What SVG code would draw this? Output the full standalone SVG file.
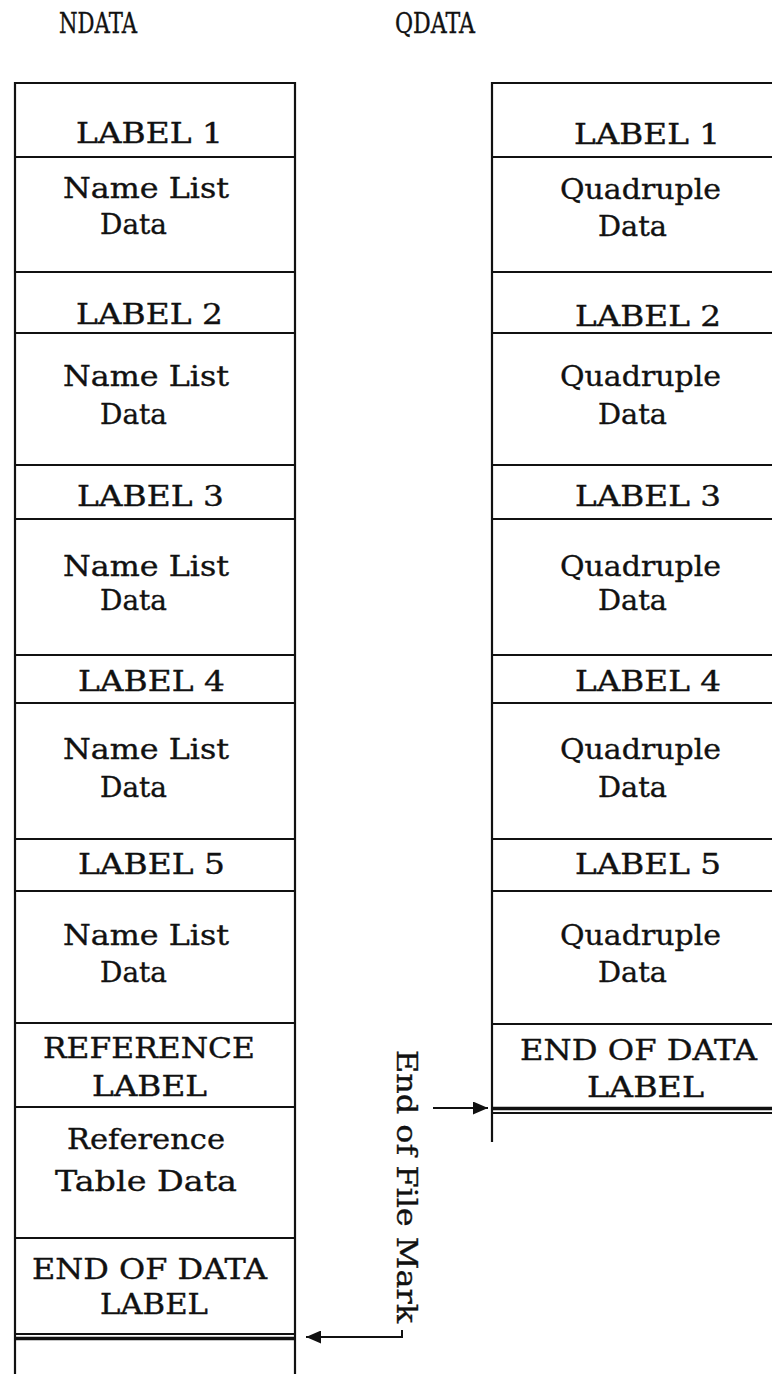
<svg xmlns="http://www.w3.org/2000/svg" width="772" height="1374" viewBox="0 0 772 1374">
<style>
  .t { font-family: "DejaVu Serif", "Liberation Serif", serif; font-size: 27px; fill: #111; stroke: #111; stroke-width: 0.35; }
  .ln { stroke: #111; stroke-width: 2.2; fill: none; }
  .thick { stroke: #111; stroke-width: 3.5; fill: none; }
  .conn { stroke: #111; stroke-width: 2; fill: none; }
</style>
<defs>
  <marker id="ah" markerUnits="userSpaceOnUse" markerWidth="15" markerHeight="13" refX="15" refY="6.5" orient="auto">
    <path d="M0,0 L15,6.5 L0,13 z" fill="#111"/>
  </marker>
</defs>
<rect width="772" height="1374" fill="#fff"/>

<!-- Titles -->
<g id="title-ndata"><text class="t" x="59" y="33" textLength="78" lengthAdjust="spacingAndGlyphs">NDATA</text></g>
<g id="title-qdata"><text class="t" x="395" y="33" textLength="80" lengthAdjust="spacingAndGlyphs">QDATA</text></g>

<!-- NDATA column frame -->
<g id="ndata-frame">
  <path class="ln" d="M15,1374 L15,83 L295,83 L295,1374"/>
  <path class="ln" d="M15,157 H295 M15,272 H295 M15,333 H295 M15,465 H295 M15,519 H295 M15,655 H295 M15,703 H295 M15,839 H295 M15,891 H295 M15,1023 H295 M15,1107 H295 M15,1238 H295 M15,1334 H295"/>
  <path class="thick" d="M15,1338.5 H295"/>
</g>

<g id="n-label1"><text class="t" x="76" y="143" textLength="147" lengthAdjust="spacingAndGlyphs">LABEL 1</text></g>
<g id="n-data1">
  <text class="t" x="63" y="198" textLength="166" lengthAdjust="spacingAndGlyphs">Name List</text>
  <text class="t" x="100" y="234" textLength="67" lengthAdjust="spacingAndGlyphs">Data</text>
</g>
<g id="n-label2"><text class="t" x="76" y="324" textLength="147" lengthAdjust="spacingAndGlyphs">LABEL 2</text></g>
<g id="n-data2">
  <text class="t" x="63" y="386" textLength="166" lengthAdjust="spacingAndGlyphs">Name List</text>
  <text class="t" x="100" y="424" textLength="67" lengthAdjust="spacingAndGlyphs">Data</text>
</g>
<g id="n-label3"><text class="t" x="77" y="506" textLength="147" lengthAdjust="spacingAndGlyphs">LABEL 3</text></g>
<g id="n-data3">
  <text class="t" x="63" y="576" textLength="166" lengthAdjust="spacingAndGlyphs">Name List</text>
  <text class="t" x="100" y="610" textLength="67" lengthAdjust="spacingAndGlyphs">Data</text>
</g>
<g id="n-label4"><text class="t" x="78" y="691" textLength="147" lengthAdjust="spacingAndGlyphs">LABEL 4</text></g>
<g id="n-data4">
  <text class="t" x="63" y="759" textLength="166" lengthAdjust="spacingAndGlyphs">Name List</text>
  <text class="t" x="100" y="797" textLength="67" lengthAdjust="spacingAndGlyphs">Data</text>
</g>
<g id="n-label5"><text class="t" x="78" y="874" textLength="147" lengthAdjust="spacingAndGlyphs">LABEL 5</text></g>
<g id="n-data5">
  <text class="t" x="63" y="945" textLength="166" lengthAdjust="spacingAndGlyphs">Name List</text>
  <text class="t" x="100" y="982" textLength="67" lengthAdjust="spacingAndGlyphs">Data</text>
</g>
<g id="n-reflabel">
  <text class="t" x="43" y="1058" textLength="212" lengthAdjust="spacingAndGlyphs">REFERENCE</text>
  <text class="t" x="92" y="1096" textLength="115" lengthAdjust="spacingAndGlyphs">LABEL</text>
</g>
<g id="n-refdata">
  <text class="t" x="67" y="1149" textLength="158" lengthAdjust="spacingAndGlyphs">Reference</text>
  <text class="t" x="55" y="1191" textLength="182" lengthAdjust="spacingAndGlyphs">Table Data</text>
</g>
<g id="n-end">
  <text class="t" x="32" y="1279" textLength="235" lengthAdjust="spacingAndGlyphs">END OF DATA</text>
  <text class="t" x="100" y="1314" textLength="108" lengthAdjust="spacingAndGlyphs">LABEL</text>
</g>

<!-- QDATA column frame -->
<g id="qdata-frame">
  <path class="ln" d="M492,1142 L492,83 L772,83"/>
  <path class="ln" d="M492,157 H772 M492,272 H772 M492,333 H772 M492,465 H772 M492,519 H772 M492,655 H772 M492,703 H772 M492,839 H772 M492,891 H772 M492,1024 H772 M492,1113 H772"/>
  <path class="thick" d="M492,1108.5 H772"/>
</g>

<g id="q-label1"><text class="t" x="574" y="144" textLength="146" lengthAdjust="spacingAndGlyphs">LABEL 1</text></g>
<g id="q-data1">
  <text class="t" x="560" y="199" textLength="161" lengthAdjust="spacingAndGlyphs">Quadruple</text>
  <text class="t" x="598" y="236" textLength="69" lengthAdjust="spacingAndGlyphs">Data</text>
</g>
<g id="q-label2"><text class="t" x="575" y="326" textLength="146" lengthAdjust="spacingAndGlyphs">LABEL 2</text></g>
<g id="q-data2">
  <text class="t" x="560" y="386" textLength="161" lengthAdjust="spacingAndGlyphs">Quadruple</text>
  <text class="t" x="598" y="424" textLength="69" lengthAdjust="spacingAndGlyphs">Data</text>
</g>
<g id="q-label3"><text class="t" x="575" y="506" textLength="146" lengthAdjust="spacingAndGlyphs">LABEL 3</text></g>
<g id="q-data3">
  <text class="t" x="560" y="576" textLength="161" lengthAdjust="spacingAndGlyphs">Quadruple</text>
  <text class="t" x="598" y="610" textLength="69" lengthAdjust="spacingAndGlyphs">Data</text>
</g>
<g id="q-label4"><text class="t" x="575" y="691" textLength="146" lengthAdjust="spacingAndGlyphs">LABEL 4</text></g>
<g id="q-data4">
  <text class="t" x="560" y="759" textLength="161" lengthAdjust="spacingAndGlyphs">Quadruple</text>
  <text class="t" x="598" y="797" textLength="69" lengthAdjust="spacingAndGlyphs">Data</text>
</g>
<g id="q-label5"><text class="t" x="575" y="874" textLength="146" lengthAdjust="spacingAndGlyphs">LABEL 5</text></g>
<g id="q-data5">
  <text class="t" x="560" y="945" textLength="161" lengthAdjust="spacingAndGlyphs">Quadruple</text>
  <text class="t" x="598" y="982" textLength="69" lengthAdjust="spacingAndGlyphs">Data</text>
</g>
<g id="q-end">
  <text class="t" x="520" y="1060" textLength="237" lengthAdjust="spacingAndGlyphs">END OF DATA</text>
  <text class="t" x="587" y="1097" textLength="117" lengthAdjust="spacingAndGlyphs">LABEL</text>
</g>

<!-- End of File Mark label -->
<g id="eof-label">
  <text class="t" transform="translate(397,1050) rotate(90)" x="0" y="0" textLength="273" lengthAdjust="spacingAndGlyphs">End of File Mark</text>
</g>

<!-- Connectors -->
<g id="connectors">
  <path class="conn" d="M433,1108 H488" marker-end="url(#ah)"/>
  <path class="conn" d="M402,1330 V1337 H306" marker-end="url(#ah)"/>
</g>
</svg>
